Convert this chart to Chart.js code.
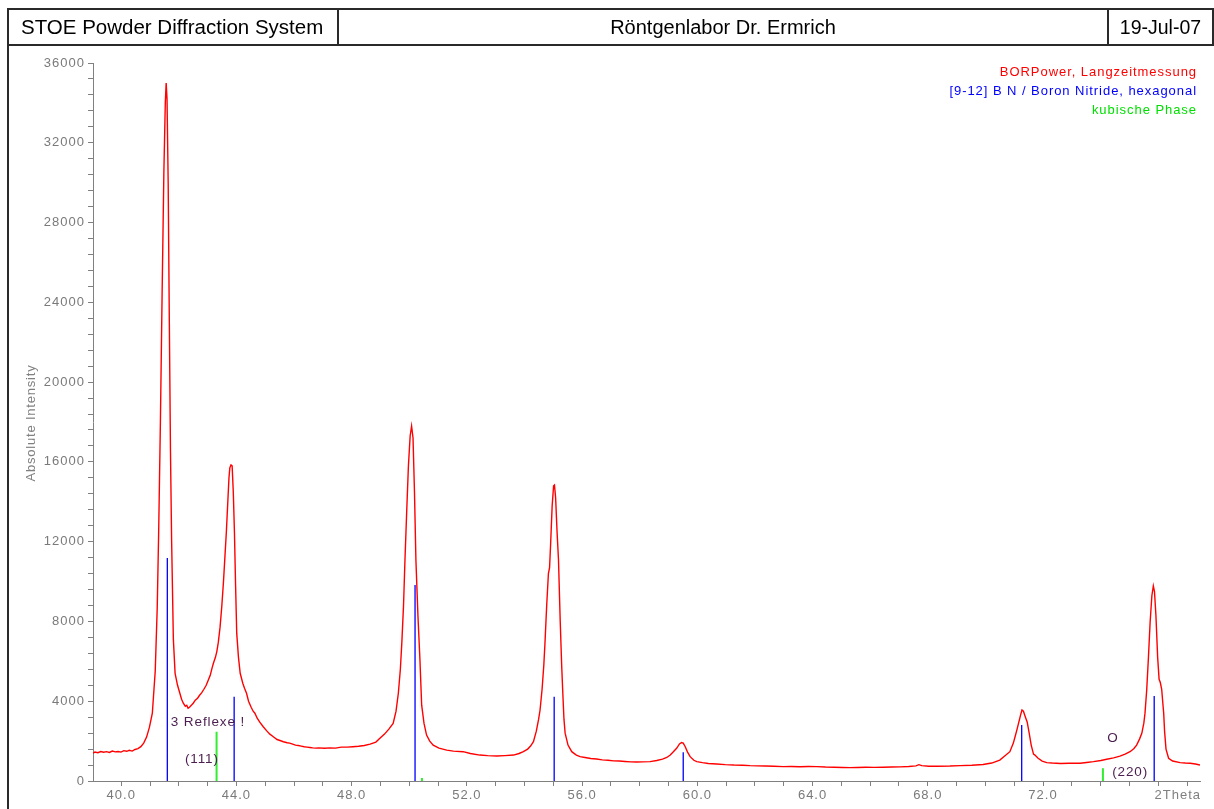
<!DOCTYPE html>
<html>
<head>
<meta charset="utf-8">
<script src="https://cdn.jsdelivr.net/npm/chart.js@4.4.1/dist/chart.umd.min.js"></script>
<style>
  html, body { margin: 0; padding: 0; background: #fff; width: 1214px; height: 809px; overflow: hidden;
    font-family: "Liberation Sans", Arial, sans-serif; }
  #c { position: absolute; left: 0; top: 0; }
  .line { position: absolute; background: #2a2a2a; }
  .hcell { position: absolute; top: 10px; height: 34px; line-height: 34px; font-size: 20px; color: #000; white-space: nowrap; }
  .leg { position: absolute; right: 17px; font-size: 13px; letter-spacing: 0.95px; white-space: nowrap; line-height: 19px; }
</style>
</head>
<body>
<canvas id="c" width="1214" height="809"></canvas>
<!-- frame and header -->
<div class="line" style="left:7px; top:8px; width:2px; height:801px;"></div>
<div class="line" style="left:7px; top:8px; width:1207px; height:2px;"></div>
<div class="line" style="left:7px; top:44px; width:1207px; height:2px;"></div>
<div class="line" style="left:337px; top:8px; width:2px; height:38px;"></div>
<div class="line" style="left:1107px; top:8px; width:2px; height:38px;"></div>
<div class="line" style="left:1212px; top:8px; width:2px; height:38px;"></div>
<div class="hcell" id="h1" style="left:21px; font-size:20.5px;"></div>
<div class="hcell" id="h2" style="left:339px; width:768px; text-align:center;"></div>
<div class="hcell" id="h3" style="left:1109px; width:103px; text-align:center; font-size:19.5px;"></div>
<div class="leg" id="l1" style="top:62px; color:#ff0000;"></div>
<div class="leg" id="l2" style="top:81px; color:#0000ff;"></div>
<div class="leg" id="l3" style="top:100px; color:#00e000;"></div>
<script>
// ---------------- data ----------------
const headerTexts = ['STOE Powder Diffraction System', 'Röntgenlabor Dr. Ermrich', '19-Jul-07'];
const legendLabels = ['BORPower, Langzeitmessung', '[9-12] B N / Boron Nitride, hexagonal', 'kubische Phase'];
const yAxisTitle = 'Absolute Intensity';
const xAxisTitle = '2Theta';

const xTickLabels = ['40.0', '44.0', '48.0', '52.0', '56.0', '60.0', '64.0', '68.0', '72.0'];
const yTickLabels = ['0', '4000', '8000', '12000', '16000', '20000', '24000', '28000', '32000', '36000'];

// measured pattern: 2Theta (deg)
const twoTheta = [
  39.02, 39.09, 39.19, 39.29, 39.39, 39.49, 39.59, 39.69, 39.79, 39.89, 39.99, 40.09, 40.19, 40.28, 40.38,
  40.48, 40.58, 40.68, 40.78, 40.88, 40.98, 41.08, 41.18, 41.25, 41.30, 41.36, 41.42, 41.48, 41.53, 41.56,
  41.59, 41.63, 41.67, 41.71, 41.75, 41.81, 41.87, 41.955, 42.035, 42.095, 42.155, 42.225, 42.275, 42.32, 42.37,
  42.45, 42.50, 42.57, 42.65, 42.72, 42.79, 42.87, 42.95, 43.02, 43.09, 43.15, 43.20, 43.27, 43.32, 43.37,
  43.43, 43.49, 43.55, 43.60, 43.65, 43.70, 43.74, 43.77, 43.81, 43.85, 43.89, 43.93, 43.97, 44.01, 44.07,
  44.13, 44.22, 44.28, 44.35, 44.42, 44.51, 44.58, 44.64, 44.72, 44.81, 44.93, 45.06, 45.16, 45.28, 45.41,
  45.51, 45.63, 45.76, 45.85, 45.95, 46.05, 46.15, 46.25, 46.35, 46.45, 46.55, 46.65, 46.75, 46.85, 47.05,
  47.25, 47.44, 47.64, 47.84, 48.04, 48.24, 48.44, 48.64, 48.84, 48.98, 49.14, 49.29, 49.44, 49.54, 49.62,
  49.69, 49.74, 49.80, 49.85, 49.91, 49.97, 50.03, 50.08, 50.13, 50.18, 50.23, 50.30, 50.37, 50.43, 50.51,
  50.60, 50.71, 50.83, 51.03, 51.30, 51.53, 51.87, 52.12, 52.45, 52.72, 53.04, 53.32, 53.62, 53.81, 53.96,
  54.11, 54.21, 54.31, 54.41, 54.49, 54.54, 54.61, 54.67, 54.71, 54.77, 54.83, 54.87, 54.91, 54.96, 55.01,
  55.04, 55.08, 55.13, 55.18, 55.24, 55.29, 55.33, 55.37, 55.41, 55.51, 55.64, 55.80, 55.93, 56.10, 56.30,
  56.50, 56.70, 56.90, 57.09, 57.29, 57.49, 57.69, 57.89, 58.09, 58.36, 58.59, 58.79, 58.94, 59.06, 59.16,
  59.28, 59.38, 59.45, 59.51, 59.58, 59.66, 59.75, 59.88, 59.98, 60.18, 60.38, 60.67, 60.97, 61.27, 61.57,
  61.83, 62.07, 62.36, 62.66, 62.98, 63.26, 63.56, 63.86, 64.15, 64.45, 64.75, 65.05, 65.30, 65.55, 65.85,
  66.14, 66.45, 66.74, 67.04, 67.34, 67.59, 67.69, 67.79, 68.04, 68.33, 68.77, 69.13, 69.53, 69.92, 70.22,
  70.50, 70.67, 70.85, 70.97, 71.03, 71.10, 71.15, 71.22, 71.27, 71.32, 71.39, 71.45, 71.52, 71.59, 71.67,
  71.72, 71.82, 71.97, 72.13, 72.32, 72.61, 72.91, 73.29, 73.51, 73.75, 74.01, 74.21, 74.45, 74.67, 74.85,
  75.02, 75.15, 75.25, 75.35, 75.43, 75.50, 75.54, 75.60, 75.66, 75.72, 75.78, 75.83, 75.87, 75.92, 75.98,
  76.03, 76.07, 76.12, 76.16, 76.19, 76.22, 76.27, 76.36, 76.50, 76.76, 76.94, 77.11, 77.29, 77.45
];
// measured pattern: intensity (counts)
const intensity = [
  1400, 1450, 1420, 1480, 1440, 1470, 1430, 1500, 1460, 1480, 1450, 1520, 1490, 1540, 1500,
  1580, 1620, 1720, 1900, 2200, 2700, 3400, 5500, 8700, 12500, 18000, 24500, 30500, 34000, 35000,
  34200, 30000, 23000, 16500, 12000, 7100, 5400, 4800, 4400, 4100, 3900, 3750, 3800, 3650, 3700,
  3820, 3900, 4050, 4150, 4300, 4420, 4600, 4800, 5050, 5300, 5650, 5900, 6200, 6500, 6950,
  7700, 8740, 10000, 11250, 12500, 14000, 15200, 15700, 15850, 15800, 14500, 12500, 9800, 7400, 6200,
  5400, 4900, 4650, 4400, 4000, 3700, 3500, 3400, 3150, 2950, 2720, 2500, 2350, 2220, 2080,
  2030, 1970, 1920, 1900, 1850, 1800, 1780, 1750, 1720, 1700, 1680, 1660, 1650, 1660, 1640,
  1660, 1650, 1700, 1700, 1720, 1740, 1780, 1850, 1950, 2140, 2350, 2600, 2890, 3500, 4400,
  5600, 6900, 8800, 11080, 13500, 15800, 17300, 17800, 17200, 14500, 11080, 8300, 6070, 3800, 2900,
  2300, 2000, 1800, 1650, 1550, 1500, 1470, 1380, 1300, 1270, 1250, 1270, 1300, 1380, 1470,
  1600, 1750, 1970, 2500, 3100, 3560, 4600, 5800, 6900, 8800, 10400, 10700, 12000, 13800, 14800,
  14840, 14200, 12500, 11080, 8000, 5800, 4400, 3100, 2400, 1800, 1470, 1300, 1220, 1180, 1130,
  1100, 1060, 1040, 1010, 1000, 980, 960, 950, 960, 970, 1030, 1100, 1180, 1300, 1450,
  1640, 1860, 1930, 1900, 1720, 1450, 1220, 1040, 970, 920, 880, 850, 820, 800, 790,
  770, 760, 750, 740, 720, 730, 715, 725, 720, 700, 690, 680, 670, 680, 690,
  685, 690, 700, 710, 730, 760, 820, 770, 740, 740, 750, 770, 790, 830, 900,
  1050, 1250, 1470, 1900, 2220, 2600, 2890, 3300, 3560, 3500, 3200, 2960, 2400, 1800, 1350,
  1300, 1150, 1000, 920, 900, 880, 890, 890, 930, 970, 1030, 1090, 1160, 1250, 1350,
  1470, 1620, 1800, 2100, 2390, 2900, 3390, 4560, 6200, 8000, 9300, 9780, 9500, 8300, 6200,
  5100, 4950, 4600, 3900, 3390, 2500, 1600, 1140, 1000, 920, 900, 890, 850, 800
];

// reference lines: hexagonal BN
const hexPos = [41.60, 43.92, 50.20, 55.03, 59.51, 71.26, 75.86];
const hexInt = [11180, 4230, 9830, 4230, 1440, 2810, 4260];
// reference lines: cubic phase
const cubPos = [43.31, 50.44, 74.08];
const cubInt = [2470, 150, 640];

// annotations (text anchored in data coordinates)
const annotationTexts = ['3 Reflexe !', '(111)', 'O', '(220)'];
const annotationX = [41.72, 42.21, 74.43, 74.40];
const annotationY = [2960, 1100, 2160, 450];
const annotationAlign = ['left', 'left', 'center', 'left'];

// ---------------- page text ----------------
document.getElementById('h1').textContent = headerTexts[0];
document.getElementById('h2').textContent = headerTexts[1];
document.getElementById('h3').textContent = headerTexts[2];
document.getElementById('l1').textContent = legendLabels[0];
document.getElementById('l2').textContent = legendLabels[1];
document.getElementById('l3').textContent = legendLabels[2];

// ---------------- chart ----------------
const FONT = '"Liberation Sans", Arial, sans-serif';
const curveData = twoTheta.map((t, i) => ({ x: t, y: intensity[i] }));
function stickData(pos, h) {
  const d = [];
  pos.forEach((p, i) => { d.push({ x: p, y: 0 }, { x: p, y: h[i] }, { x: p, y: null }); });
  return d;
}

const extras = {
  id: 'extras',
  beforeDraw(chart) { chart.ctx.letterSpacing = '1px'; },
  afterDraw(chart) {
    const { ctx, scales: { x, y }, chartArea } = chart;
    ctx.save();
    // y-axis title
    ctx.letterSpacing = '0.8px';
    ctx.font = '13px ' + FONT;
    ctx.fillStyle = '#808080';
    ctx.textAlign = 'center';
    ctx.textBaseline = 'middle';
    ctx.translate(31, (chartArea.top + chartArea.bottom) / 2 + 1);
    ctx.rotate(-Math.PI / 2);
    ctx.fillText(yAxisTitle, 0, 0);
    ctx.restore();

    ctx.save();
    ctx.letterSpacing = '1px';
    ctx.font = '13px ' + FONT;
    ctx.fillStyle = '#808080';
    ctx.textAlign = 'right';
    ctx.textBaseline = 'middle';
    ctx.fillText(xAxisTitle, chartArea.right + 1, chartArea.bottom + 14);
    ctx.restore();

    ctx.save();
    ctx.letterSpacing = '0.9px';
    ctx.font = '13.5px ' + FONT;
    ctx.fillStyle = '#4b1e50';
    ctx.textBaseline = 'middle';
    annotationTexts.forEach((t, i) => {
      ctx.textAlign = annotationAlign[i];
      ctx.fillText(t, x.getPixelForValue(annotationX[i]), y.getPixelForValue(annotationY[i]));
    });
    ctx.restore();
  }
};

new Chart(document.getElementById('c'), {
  type: 'line',
  data: {
    datasets: [
      { data: stickData(hexPos, hexInt), borderColor: '#0000ff', borderWidth: 1.3, pointRadius: 0, spanGaps: false, order: 1 },
      { data: stickData(cubPos, cubInt), borderColor: '#30ee30', borderWidth: 2, pointRadius: 0, spanGaps: false, order: 2 },
      { data: curveData, borderColor: '#ff0000', borderWidth: 1.4, pointRadius: 0, tension: 0, order: 3 }
    ]
  },
  options: {
    responsive: false,
    animation: false,
    devicePixelRatio: 1,
    events: [],
    layout: { padding: { left: 0, top: 63, right: 14, bottom: 0 } },
    plugins: { legend: { display: false }, tooltip: { enabled: false }, title: { display: false } },
    scales: {
      x: {
        type: 'linear', min: 39.02, max: 77.45,
        afterBuildTicks: s => { const t = []; for (let v = 40; v <= 77; v++) t.push({ value: v }); s.ticks = t; },
        afterFit: s => { s.height = 28; },
        ticks: {
          autoSkip: false, maxRotation: 0, minRotation: 0, padding: 2,
          color: '#7a7a7a', font: { family: FONT, size: 13 },
          callback: v => { const l = Number(v).toFixed(1); return xTickLabels.includes(l) ? l : ''; }
        },
        grid: { display: true, drawOnChartArea: false, drawTicks: true, tickLength: 5, color: '#808080', lineWidth: 1 },
        border: { display: true, color: '#808080', width: 1 }
      },
      y: {
        type: 'linear', min: 0, max: 36000,
        afterBuildTicks: s => { const t = []; for (let v = 0; v <= 36000; v += 800) t.push({ value: v }); s.ticks = t; },
        afterFit: s => { s.width = 93; },
        ticks: {
          autoSkip: false, padding: 3,
          color: '#7a7a7a', font: { family: FONT, size: 13 },
          callback: v => { const l = String(v); return yTickLabels.includes(l) ? l : ''; }
        },
        grid: { display: true, drawOnChartArea: false, drawTicks: true, tickLength: 5, color: '#808080', lineWidth: 1 },
        border: { display: true, color: '#808080', width: 1 }
      }
    }
  },
  plugins: [extras]
});
</script>
</body>
</html>
